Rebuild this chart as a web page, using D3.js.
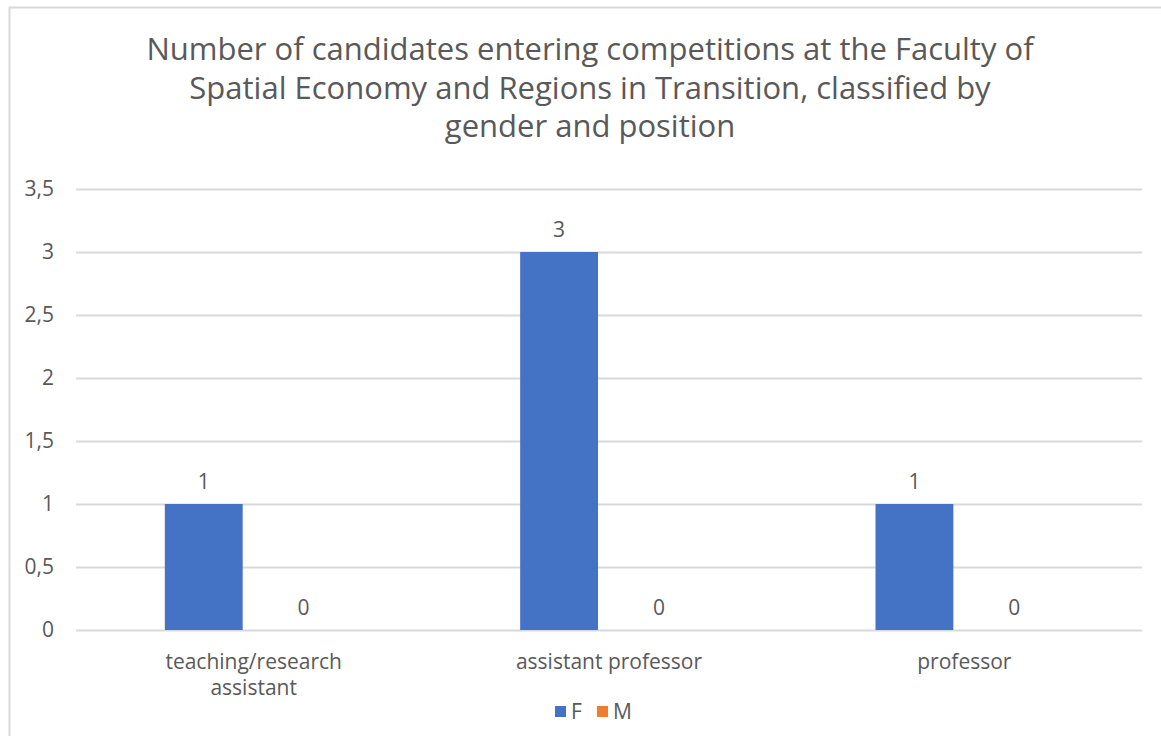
<!DOCTYPE html>
<html>
<head>
<meta charset="utf-8">
<script src="https://cdn.jsdelivr.net/npm/d3@7"></script>
<style>
  body { margin: 0; background: #fff; }
  svg text { font-family: "Open Sans", "Noto Sans", sans-serif; fill: #595959; }
</style>
</head>
<body>
<script>
(function(){

    //chart data
    var categories = ["teaching/research assistant", "assistant professor", "professor"];
    var categoryLines = [["teaching/research", "assistant"], ["assistant professor"], ["professor"]];
    var seriesNames = ["F", "M"];
    var valuesF = [1, 3, 1];
    var valuesM = [0, 0, 0];
    var yTicks = [0, 0.5, 1, 1.5, 2, 2.5, 3, 3.5];
    var titleLines = [
        "Number of candidates entering competitions at the Faculty of",
        "Spatial Economy and Regions in Transition, classified by",
        "gender and position"
    ];
    var colors = ["#4472c4", "#ed7d31"];

    var width = 1161, height = 736;

    var svg = d3.select("body").append("svg")
        .attr("width", width)
        .attr("height", height);

    //chart frame
    svg.append("rect")
        .attr("x", 9.5).attr("y", 7.5)
        .attr("width", width + 10).attr("height", height + 10)
        .attr("fill", "#fff")
        .attr("stroke", "#d9d9d9")
        .attr("stroke-width", 2);

    //title
    svg.append("g").selectAll("text")
        .data(titleLines)
        .enter()
        .append("text")
        .attr("x", 590)
        .attr("y", function(d, i){ return 60 + i * 38.5; })
        .attr("text-anchor", "middle")
        .style("font-size", "31px")
        .text(function(d){ return d; });

    var plotLeft = 76, plotRight = 1142;

    var y = d3.scaleLinear()
        .domain([0, 3.5])
        .range([630, 189]);

    var x0 = d3.scaleBand()
        .domain(categories)
        .range([plotLeft, plotRight])
        .paddingInner(0.5)
        .paddingOuter(0.25);

    var x1 = d3.scaleBand()
        .domain(seriesNames)
        .range([0, x0.bandwidth()])
        .paddingInner(0.22);

    //gridlines
    svg.append("g").selectAll("line")
        .data(yTicks)
        .enter()
        .append("line")
        .attr("x1", plotLeft).attr("x2", plotRight)
        .attr("y1", function(d){ return Math.round(y(d)) + 0.5; })
        .attr("y2", function(d){ return Math.round(y(d)) + 0.5; })
        .attr("stroke", "#d9d9d9")
        .attr("stroke-width", 2);

    //y axis labels
    var yAxis = d3.axisLeft(y)
        .tickValues(yTicks)
        .tickSize(0)
        .tickPadding(0)
        .tickFormat(function(d){ return String(d).replace(".", ","); });

    var yg = svg.append("g")
        .attr("transform", "translate(54,0)")
        .call(yAxis);
    yg.select(".domain").remove();
    yg.selectAll("text")
        .style("font-size", "21px")
        .attr("fill", "#595959");

    var series = [valuesF, valuesM];

    var groups = svg.append("g").selectAll("g")
        .data(categories)
        .enter()
        .append("g")
        .attr("transform", function(d){ return "translate(" + x0(d) + ",0)"; });

    groups.selectAll("rect")
        .data(function(d, i){
            return seriesNames.map(function(s, j){ return {s: s, v: series[j][i], c: colors[j]}; });
        })
        .enter()
        .append("rect")
        .attr("x", function(d){ return x1(d.s); })
        .attr("width", x1.bandwidth())
        .attr("y", function(d){ return y(d.v); })
        .attr("height", function(d){ return y(0) - y(d.v); })
        .attr("fill", function(d){ return d.c; });

    //data labels
    groups.selectAll(".dlabel")
        .data(function(d, i){
            return seriesNames.map(function(s, j){ return {s: s, v: series[j][i]}; });
        })
        .enter()
        .append("text")
        .attr("class", "dlabel")
        .attr("x", function(d){ return x1(d.s) + x1.bandwidth() / 2; })
        .attr("y", function(d){ return y(d.v) - 15; })
        .attr("text-anchor", "middle")
        .style("font-size", "21px")
        .text(function(d){ return d.v; });

    //category labels, one text per line
    categories.forEach(function(c, i){
        svg.append("g").selectAll("text")
            .data(categoryLines[i])
            .enter()
            .append("text")
            .attr("x", x0(c) + x0.bandwidth() / 2)
            .attr("y", function(d, k){ return 669 + k * 26; })
            .attr("text-anchor", "middle")
            .style("font-size", "21px")
            .text(function(d){ return d; });
    });

    //legend
    var legend = svg.append("g");
    var legendX = [555, 597];
    seriesNames.forEach(function(s, i){
        legend.append("rect")
            .attr("x", legendX[i]).attr("y", 706)
            .attr("width", 11).attr("height", 11)
            .attr("fill", colors[i]);
        legend.append("text")
            .attr("x", legendX[i] + 16).attr("y", 719)
            .style("font-size", "21px")
            .text(s);
    });

})();
</script>
</body>
</html>
